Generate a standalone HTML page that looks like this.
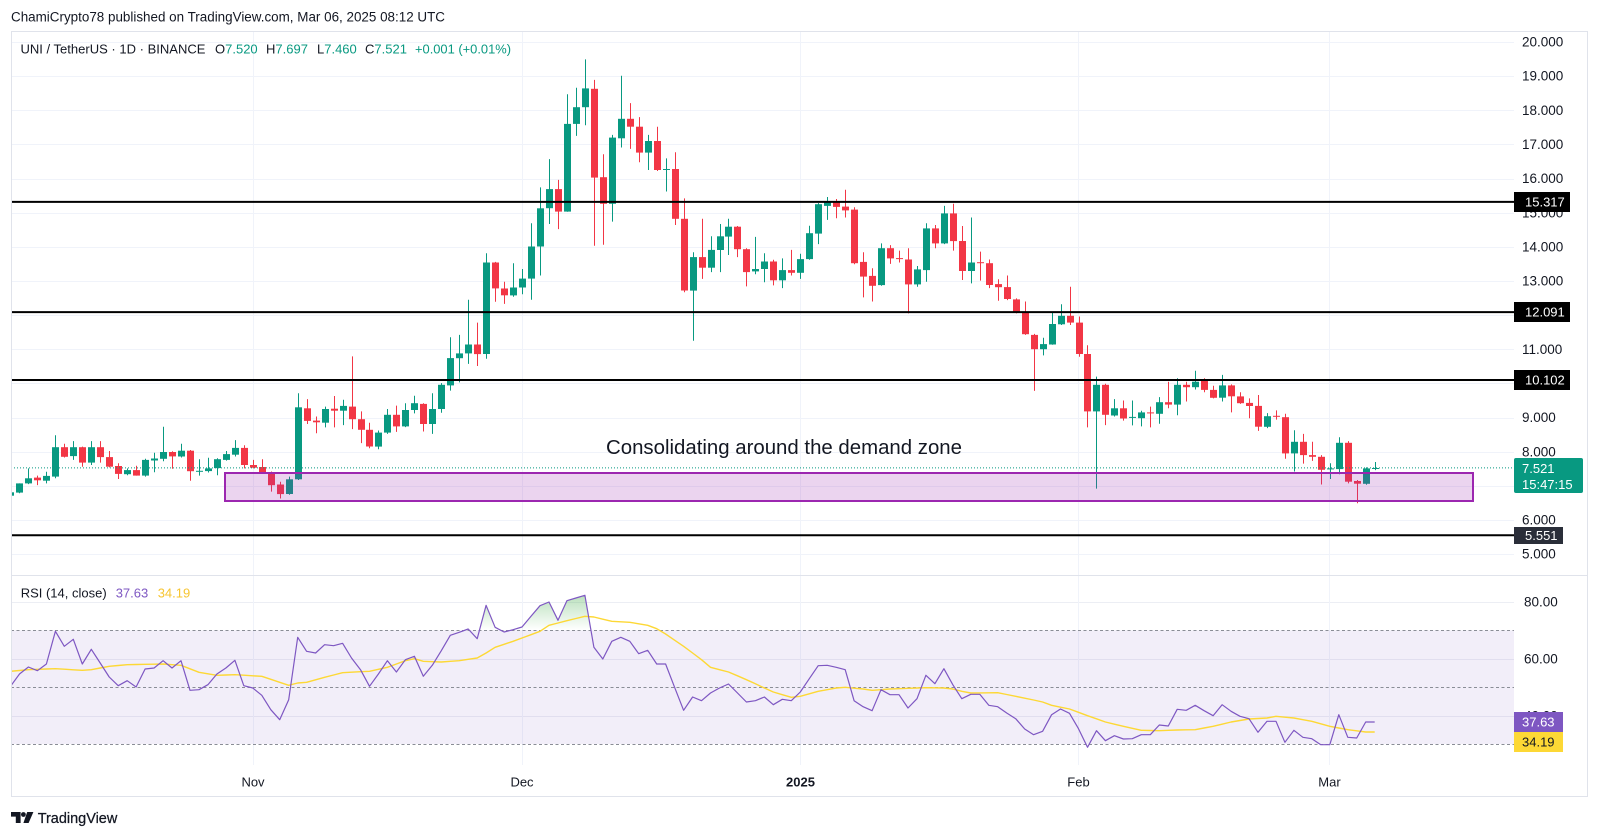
<!DOCTYPE html>
<html><head><meta charset="utf-8"><style>
html,body{margin:0;padding:0;background:#fff;width:1600px;height:838px;overflow:hidden}
svg{display:block}
text{font-family:"Liberation Sans",Arial,sans-serif}
</style></head><body>
<svg id="s" width="1600" height="838" viewBox="0 0 1600 838" xmlns="http://www.w3.org/2000/svg">
<defs>
 <clipPath id="mp"><rect x="11" y="31" width="1503" height="544"/></clipPath>
 <clipPath id="rp"><rect x="11" y="576" width="1503" height="189"/></clipPath>
 <clipPath id="ob"><rect x="11" y="576" width="1503" height="54.33"/></clipPath>
 <clipPath id="os"><rect x="11" y="744" width="1503" height="21"/></clipPath>
 <linearGradient id="gg" gradientUnits="userSpaceOnUse" x1="0" y1="592" x2="0" y2="630"><stop offset="0" stop-color="#4caf50" stop-opacity="0.42"/><stop offset="1" stop-color="#4caf50" stop-opacity="0"/></linearGradient>
 <linearGradient id="rg" gradientUnits="userSpaceOnUse" x1="0" y1="744" x2="0" y2="760"><stop offset="0" stop-color="#f23645" stop-opacity="0"/><stop offset="1" stop-color="#f23645" stop-opacity="0.4"/></linearGradient>
</defs>
<rect x="0" y="0" width="1600" height="838" fill="#fff"/>
<g id="grid"></g>
<rect x="11" y="630.33" width="1503" height="113.67" fill="#7e57c2" fill-opacity="0.1"/>
<g stroke="#8a8d96" stroke-width="1" stroke-dasharray="3 2.5">
 <line x1="11" y1="630.5" x2="1514" y2="630.5"/>
 <line x1="11" y1="687.5" x2="1514" y2="687.5"/>
 <line x1="11" y1="744.5" x2="1514" y2="744.5"/>
</g>
<g id="cd" clip-path="url(#mp)"></g>
<g stroke="#000" stroke-width="2">
 <line x1="11" y1="201.9" x2="1514" y2="201.9"/>
 <line x1="11" y1="312.1" x2="1514" y2="312.1"/>
 <line x1="11" y1="380" x2="1514" y2="380"/>
 <line x1="11" y1="535.3" x2="1514" y2="535.3"/>
</g>
<rect x="225" y="473" width="1248" height="28" fill="#9c27b0" fill-opacity="0.2" stroke="#9c27b0" stroke-width="2"/>
<line x1="11" y1="467.9" x2="1514" y2="467.9" stroke="#089981" stroke-width="1" stroke-dasharray="1 2"/>
<text x="606" y="454" font-size="20.4" fill="#131722" textLength="356" lengthAdjust="spacingAndGlyphs">Consolidating around the demand zone</text>
<g id="rsi" clip-path="url(#rp)"></g>
<line x1="11" y1="575.5" x2="1588" y2="575.5" stroke="#e0e3eb" stroke-width="1"/>
<rect x="11.5" y="31.5" width="1576" height="765" fill="none" stroke="#e0e3eb" stroke-width="1"/>
<g id="ax" font-size="13.5" fill="#131722"></g>
<g font-size="13" fill="#fff">
 <rect x="1514" y="192" width="56" height="20" fill="#000"/><text x="1525" y="206.5">15.317</text>
 <rect x="1514" y="302" width="56" height="20" fill="#000"/><text x="1525" y="316.5">12.091</text>
 <rect x="1514" y="370" width="56" height="20" fill="#000"/><text x="1525" y="384.5">10.102</text>
 <rect x="1514" y="527" width="49" height="17" fill="#2a2e39"/><text x="1525" y="540">5.551</text>
 <rect x="1514" y="458" width="69" height="35" rx="2" fill="#089981"/><text x="1522" y="473">7.521</text><text x="1522" y="489">15:47:15</text>
 <rect x="1514" y="712" width="49" height="20" fill="#7e57c2"/><text x="1522" y="726.5">37.63</text>
 <rect x="1514" y="732" width="49" height="20" fill="#fdd835"/><text x="1522" y="746.5" fill="#131722">34.19</text>
</g>
<g font-size="13" fill="#131722" text-anchor="middle">
 <text x="253" y="786.5">Nov</text>
 <text x="522" y="786.5">Dec</text>
 <text x="800.5" y="786.5" font-weight="bold">2025</text>
 <text x="1078.5" y="786.5">Feb</text>
 <text x="1329.5" y="786.5">Mar</text>
</g>
<text x="11" y="21.5" font-size="13.5" fill="#131722" textLength="434" lengthAdjust="spacingAndGlyphs">ChamiCrypto78 published on TradingView.com, Mar 06, 2025 08:12 UTC</text>
<g font-size="13" fill="#131722">
 <text x="20.5" y="53.5" textLength="185" lengthAdjust="spacingAndGlyphs">UNI / TetherUS · 1D · BINANCE</text>
 <text x="215" y="53.5">O<tspan fill="#089981">7.520</tspan></text>
 <text x="266" y="53.5">H<tspan fill="#089981">7.697</tspan></text>
 <text x="317" y="53.5">L<tspan fill="#089981">7.460</tspan></text>
 <text x="365" y="53.5">C<tspan fill="#089981">7.521</tspan></text>
 <text x="415" y="53.5" fill="#089981" textLength="96" lengthAdjust="spacingAndGlyphs">+0.001 (+0.01%)</text>
 <text x="20.7" y="597.3">RSI (14, close)</text>
 <text x="115.7" y="597.3" fill="#7e57c2">37.63</text>
 <text x="157.7" y="597.3" fill="#f7c531">34.19</text>
</g>
<g fill="#131722">
 <path d="M11 812h9.6v11h-4.8v-6.4H11z"/>
 <circle cx="23.4" cy="814.5" r="2.4"/>
 <path d="M27.2 812h6.2l-4.8 11h-5.2z"/>
 <text x="37.7" y="823" font-size="14.6" stroke="#131722" stroke-width="0.25" textLength="79.6" lengthAdjust="spacingAndGlyphs">TradingView</text>
</g>
</svg>
<script>
(function(){
const D=[
[6.71,6.83,6.70,6.81],[6.80,7.07,6.78,7.07],[7.07,7.51,7.05,7.22],[7.24,7.30,7.02,7.16],[7.15,7.41,7.07,7.29],
[7.27,8.48,7.22,8.13],[8.13,8.23,7.83,7.85],[7.87,8.31,7.76,8.13],[8.13,8.15,7.56,7.68],[7.68,8.31,7.61,8.13],
[8.13,8.31,7.68,7.84],[7.84,8.02,7.54,7.56],[7.58,7.66,7.20,7.35],[7.34,7.51,7.31,7.46],[7.46,7.59,7.30,7.30],
[7.30,7.79,7.27,7.76],[7.74,7.97,7.40,7.80],[7.79,8.73,7.72,7.99],[7.99,8.01,7.50,7.86],[7.86,8.23,7.83,8.03],
[8.03,8.05,7.15,7.43],[7.42,7.78,7.30,7.44],[7.43,7.82,7.39,7.51],[7.52,7.81,7.31,7.78],[7.76,8.02,7.74,7.93],
[7.91,8.34,7.86,8.11],[8.11,8.19,7.51,7.61],[7.61,7.76,7.51,7.53],[7.55,7.78,7.35,7.39],[7.40,7.42,6.83,7.02],
[7.04,7.12,6.63,6.76],[6.76,7.27,6.74,7.19],[7.19,9.71,7.17,9.30],[9.27,9.54,8.81,8.90],[8.91,9.03,8.54,8.86],
[8.85,9.32,8.71,9.25],[9.26,9.63,8.71,9.20],[9.20,9.52,8.78,9.34],[9.32,10.79,8.66,8.95],[8.95,9.18,8.25,8.64],
[8.64,8.85,8.10,8.15],[8.15,8.62,8.07,8.56],[8.56,9.25,8.52,9.08],[9.08,9.35,8.58,8.74],[8.74,9.42,8.72,9.22],
[9.22,9.64,9.12,9.42],[9.40,9.42,8.59,8.81],[8.81,9.71,8.52,9.25],[9.25,10.01,9.14,9.96],[9.94,11.35,9.79,10.74],
[10.74,11.42,10.03,10.88],[10.88,12.45,10.57,11.14],[11.14,11.78,10.51,10.86],[10.86,13.81,10.72,13.54],[13.54,13.56,12.39,12.78],
[12.78,12.98,12.33,12.58],[12.58,13.52,12.54,12.81],[12.81,13.35,12.61,13.07],[13.07,14.69,12.45,14.01],[14.01,15.74,13.16,15.13],
[15.13,16.57,14.67,15.69],[15.69,15.96,14.52,15.03],[15.03,18.47,15.03,17.60],[17.60,18.66,17.25,18.09],[18.09,19.49,17.56,18.64],
[18.63,18.89,14.03,16.03],[16.04,16.71,14.06,15.26],[15.26,17.28,14.74,17.20],[17.18,19.01,16.91,17.75],[17.75,18.21,16.87,17.52],
[17.52,17.80,16.48,16.76],[16.76,17.28,16.25,17.10],[17.10,17.52,16.22,16.25],[16.26,16.59,15.62,16.28],[16.28,16.77,14.64,14.82],
[14.82,15.42,12.67,12.72],[12.72,13.84,11.25,13.70],[13.70,14.82,13.06,13.39],[13.39,14.31,13.26,13.91],[13.91,14.67,13.26,14.31],
[14.30,14.82,13.76,14.59],[14.59,14.61,13.70,13.93],[13.93,13.96,12.84,13.26],[13.28,14.29,13.20,13.35],[13.35,13.81,12.96,13.57],
[13.57,13.62,12.87,13.02],[13.02,13.66,12.79,13.32],[13.32,13.91,13.16,13.24],[13.24,13.80,13.06,13.64],[13.64,14.62,13.62,14.40],
[14.39,15.28,14.08,15.25],[15.20,15.46,14.79,15.30],[15.31,15.40,14.84,15.17],[15.18,15.67,14.86,15.07],[15.09,15.16,13.49,13.52],
[13.56,13.84,12.52,13.13],[13.15,13.37,12.40,12.86],[12.88,14.10,12.86,13.96],[13.96,14.05,13.50,13.66],[13.67,13.89,13.54,13.64],
[13.63,13.96,12.05,12.90],[12.90,13.44,12.83,13.34],[13.32,14.69,12.98,14.54],[14.54,14.64,13.96,14.10],[14.10,15.20,14.08,14.98],
[14.98,15.26,13.89,14.17],[14.17,14.61,13.03,13.29],[13.29,14.86,12.93,13.54],[13.55,13.86,13.01,13.52],[13.52,13.63,12.79,12.88],
[12.91,13.05,12.42,12.82],[12.82,13.16,12.44,12.47],[12.46,12.49,12.05,12.09],[12.09,12.40,11.42,11.44],[11.42,11.45,9.78,11.00],
[11.00,11.34,10.82,11.15],[11.14,12.07,11.13,11.74],[11.73,12.32,11.71,11.98],[11.98,12.83,11.71,11.78],[11.78,11.96,10.78,10.86],
[10.86,11.12,8.71,9.18],[9.18,10.20,6.92,9.96],[9.96,9.99,8.78,9.08],[9.06,9.54,9.03,9.27],[9.27,9.50,8.91,8.97],
[9.00,9.50,8.77,9.02],[8.98,9.20,8.74,9.15],[9.15,9.32,8.71,9.12],[9.11,9.60,8.82,9.45],[9.45,10.05,9.27,9.38],
[9.38,10.15,9.07,9.96],[9.96,10.05,9.47,9.89],[9.89,10.37,9.82,10.05],[10.07,10.15,9.74,9.81],[9.81,9.93,9.56,9.58],
[9.58,10.25,9.47,9.94],[9.94,9.97,9.15,9.62],[9.62,9.74,9.40,9.42],[9.43,9.56,8.98,9.34],[9.34,9.66,8.61,8.73],
[8.73,9.13,8.69,9.04],[9.05,9.21,8.94,9.02],[9.01,9.11,7.79,7.95],[7.95,8.63,7.42,8.29],[8.29,8.52,7.65,7.90],
[7.90,8.29,7.73,7.85],[7.85,7.90,7.04,7.47],[7.48,7.66,7.20,7.51],[7.49,8.42,7.34,8.26],[8.26,8.31,7.07,7.12],
[7.14,7.17,6.49,7.06],[7.06,7.54,7.03,7.51],[7.520,7.697,7.460,7.521]];
const R=[325,288,267,278,258,160,205,184,258,214,255,297,323,308,327,273,270,248,270,248,
337,335,320,288,270,247,323,330,352,395,425,365,178,220,225,200,203,196,240,275,
325,288,248,282,245,235,295,262,218,172,163,153,182,82,148,162,155,147,115,83,
72,127,68,60,52,208,243,190,178,190,227,217,258,258,328,397,357,368,345,330,
318,345,372,368,357,380,364,368,342,302,263,262,268,275,368,386,398,335,350,350,
390,362,292,317,272,320,362,349,349,382,386,405,422,453,470,460,410,393,406,452,
508,458,488,473,483,482,470,470,441,444,394,397,382,398,413,380,400,415,422,463,
430,430,493,457,478,482,500,500,410,478,480,432,432];
const MK=[[1,280],[3,275],[6,272],[9,277],[10,275],[12,265],[14,260],[18,258],[20,262],[22,283],[24,292],[26,290],[29,295],[32,322],[33,315],[34,313],[36,298],[38,284],[40,281],[41,280],[43,268],[44,258],[45,248],[46,242],[47,250],[49,252],[51,248],[53,240],[54,225],[55,208],[57,190],[59,170],[60,160],[61,142],[63,128],[65,115],[66,117],[68,130],[70,133],[72,142],[73,152],[74,168],[76,205],[78,245],[79,268],[81,282],[83,305],[85,330],[86,342],[88,358],[89,355],[91,340],[93,330],[94,328],[96,333],[97,337],[99,333],[101,331],[103,329],[105,330],[106,333],[107,340],[108,345],[111,344],[113,355],[115,366],[116,372],[117,382],[119,393],[121,413],[123,432],[125,445],[127,457],[129,458],[131,456],[133,455],[135,445],[137,432],[139,423],[141,420],[142,415],[144,420],[146,430],[148,445],[150,455],[152,462],[153,462]];
const X=i=>252.8+(i-28)*8.975;
const PY=p=>42+(20-p)*34.14;
const RY=z=>578+z/3;
// grid
let g='';
for(let p=5;p<=20;p++){const y=Math.round(PY(p))+0.5;g+=`<line x1="11" y1="${y}" x2="1514" y2="${y}" stroke="#f0f3fa" stroke-width="1"/>`;}
[602,659,716].forEach(y=>{g+=`<line x1="11" y1="${y+0.5}" x2="1514" y2="${y+0.5}" stroke="#eceef4" stroke-width="1"/>`;});
[253,522,800.5,1078.5,1329.5].forEach(x=>{const xx=Math.floor(x)+0.5;g+=`<line x1="${xx}" y1="31" x2="${xx}" y2="765" stroke="#f0f3fa" stroke-width="1"/>`;});
document.getElementById('grid').innerHTML=g;
// candles
let s='';
D.forEach((d,k)=>{const i=k+1,xc=Math.round(X(i)),o=d[0],h=d[1],l=d[2],c=d[3],col=c>=o?'#089981':'#f23645';
 const t=PY(Math.max(o,c)),b=PY(Math.min(o,c));
 s+=`<line x1="${xc+0.5}" y1="${PY(h).toFixed(1)}" x2="${xc+0.5}" y2="${PY(l).toFixed(1)}" stroke="${col}" stroke-width="1"/>`;
 s+=`<rect x="${xc-3}" y="${t.toFixed(1)}" width="7" height="${Math.max(1,b-t).toFixed(1)}" fill="${col}"/>`;});
document.getElementById('cd').innerHTML=s;
// RSI
const pts=R.map((z,k)=>X(k+1).toFixed(1)+','+RY(z).toFixed(1)).join(' ');
const ma=[];
for(let i=1;i<=153;i++){let v=MK[MK.length-1][1];for(let j=0;j<MK.length-1;j++){const a=MK[j],b=MK[j+1];if(i>=a[0]&&i<=b[0]){v=a[1]+(b[1]-a[1])*(i-a[0])/(b[0]-a[0]);break;}}ma.push(X(i).toFixed(1)+','+RY(v).toFixed(1));}
const x1=X(1).toFixed(1),xn=X(153).toFixed(1);
let r='';
r+=`<polygon points="${x1},630.33 ${pts} ${xn},630.33" fill="url(#gg)" clip-path="url(#ob)"/>`;
r+=`<polygon points="${x1},744 ${pts} ${xn},744" fill="url(#rg)" clip-path="url(#os)"/>`;
r+=`<polyline points="${ma.join(' ')}" fill="none" stroke="#fdd835" stroke-width="1.4" stroke-linejoin="round"/>`;
r+=`<polyline points="${pts}" fill="none" stroke="#7e57c2" stroke-width="1.2" stroke-linejoin="round"/>`;
document.getElementById('rsi').innerHTML=r;
// axis labels
let a='';
for(let p=5;p<=20;p++){a+=`<text x="1522" y="${(PY(p)+4.6).toFixed(1)}">${p.toFixed(3)}</text>`;}
[[80,602],[60,659],[40,716]].forEach(q=>{a+=`<text x="1524" y="${q[1]+4.6}">${q[0].toFixed(2)}</text>`;});
document.getElementById('ax').innerHTML=a;
})();
</script>
</body></html>
